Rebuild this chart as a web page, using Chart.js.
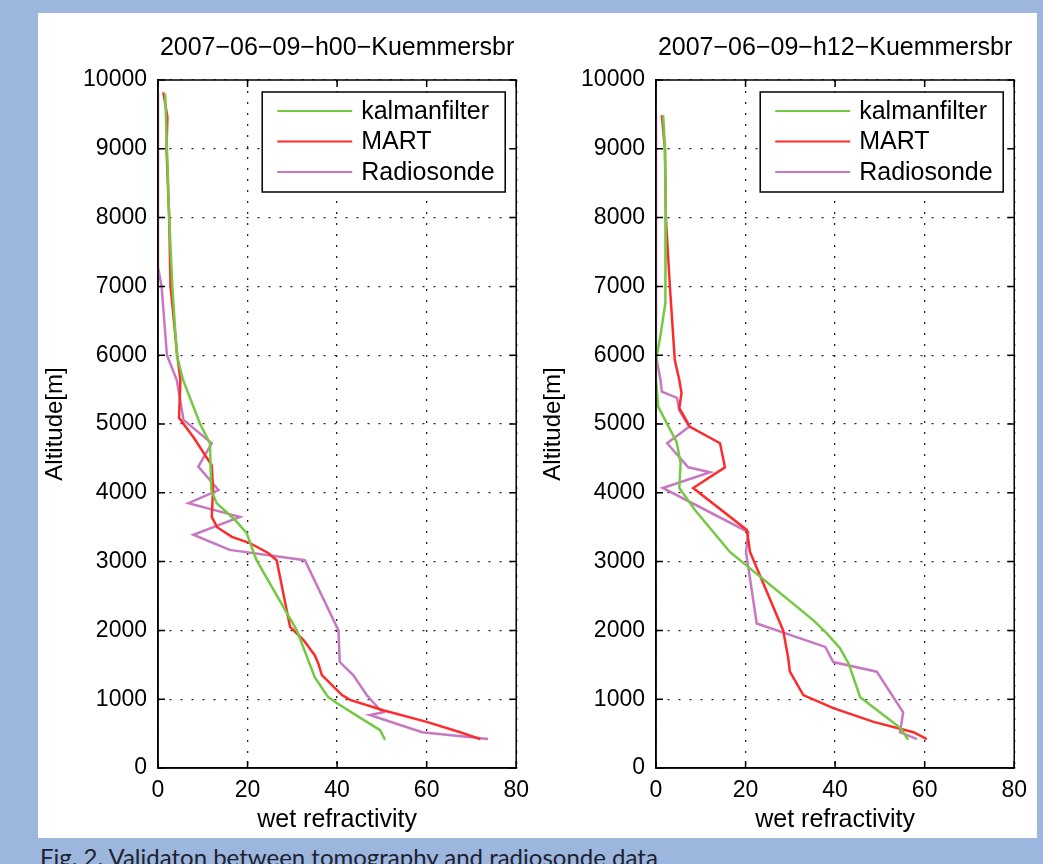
<!DOCTYPE html>
<html>
<head>
<meta charset="utf-8">
<script src="https://cdn.jsdelivr.net/npm/chart.js@4.4.1/dist/chart.umd.min.js"></script>
<style>
  html, body { margin: 0; padding: 0; }
  body { width: 1043px; height: 864px; background: #9cb6dd; position: relative; overflow: hidden; }
  #panel { position: absolute; left: 38px; top: 13px; width: 999px; height: 825px; background: #fff; }
  canvas { position: absolute; top: 13px; }
  #c1 { left: 38px; }
  #c2 { left: 536px; }
  #caption { position: absolute; left: 40px; top: 842px; font: 24px Lato, "Open Sans", sans-serif; color: #1c2130; white-space: nowrap; }
</style>
</head>
<body>
<div id="panel"></div>
<canvas id="c1" width="500" height="825"></canvas>
<canvas id="c2" width="500" height="825"></canvas>
<div id="caption">Fig. 2. Validaton between tomography and radiosonde data</div>
<script>
// --------- DADOS ----------
const seriesNames = ['kalmanfilter', 'MART', 'Radiosonde'];
const seriesColors = ['#74c943', '#ff2b2b', '#c878c0'];
const xTicks = [0, 20, 40, 60, 80];
const yTicks = [0, 1000, 2000, 3000, 4000, 5000, 6000, 7000, 8000, 9000, 10000];

// h00
const h00KalmanAlt = [9800, 9000, 8000, 7000, 6000, 5640, 5000, 4720, 4040, 3850, 3605, 3415, 3020, 2000, 1320, 1030, 940, 700, 550, 410];
const h00KalmanN   = [1.6, 2.0, 2.5, 3.2, 4.2, 5.6, 9.4, 11.6, 11.9, 13.1, 17.2, 19.8, 22.0, 31.0, 35.0, 38.0, 40.0, 45.9, 49.6, 50.7];
const h00MartAlt = [9820, 9460, 9000, 8000, 7000, 6000, 5640, 5090, 4800, 4400, 4050, 3650, 3500, 3360, 3270, 3125, 3020, 2050, 1860, 1640, 1520, 1350, 1200, 1060, 990, 840, 670, 520, 420];
const h00MartN   = [1.2, 2.1, 1.9, 2.5, 2.8, 4.3, 5.0, 4.7, 8.0, 12.0, 12.3, 12.0, 13.2, 16.5, 20.5, 24.6, 26.5, 29.5, 32.5, 35.0, 35.8, 36.6, 38.9, 41.1, 42.9, 50.3, 60.0, 67.5, 72.0];
const h00RadioAlt = [9820, 7280, 7000, 6000, 5640, 5060, 4720, 4380, 4040, 3850, 3650, 3390, 3170, 3020, 2000, 1540, 1350, 1060, 870, 810, 770, 520, 420];
const h00RadioN   = [0, 0, 0.8, 2.0, 4.2, 5.7, 12.0, 9.0, 13.5, 6.8, 18.3, 7.9, 16.0, 32.8, 40.3, 40.6, 43.6, 46.6, 49.2, 50.3, 47.3, 59.0, 73.7];

// h12
const h12KalmanAlt = [9490, 9010, 8010, 6760, 6270, 5930, 5640, 5250, 4740, 4430, 4070, 3750, 3140, 2150, 1960, 1740, 1520, 1030, 580, 410];
const h12KalmanN   = [1.6, 2.0, 2.2, 2.1, 0.95, 0, 0, 0.5, 4.6, 5.5, 5.2, 8.7, 16.5, 35.1, 38.1, 41.1, 43.0, 45.6, 54.6, 56.3];
const h12MartAlt = [9490, 9000, 8000, 7000, 5930, 5640, 5450, 5230, 4960, 4720, 4370, 4070, 3460, 3140, 2000, 1610, 1400, 1060, 870, 670, 520, 420];
const h12MartN   = [1.3, 2.0, 2.2, 3.1, 4.2, 5.2, 5.7, 5.2, 7.6, 14.3, 15.4, 8.3, 20.3, 21.0, 28.4, 29.5, 29.9, 32.9, 39.6, 48.6, 57.5, 60.5];
const h12RadioAlt = [9490, 6000, 5640, 5470, 5380, 5200, 4960, 4720, 4370, 4300, 4070, 3430, 3140, 2100, 1760, 1540, 1400, 810, 520, 420];
const h12RadioN   = [0, 0, 1.0, 1.3, 4.7, 5.2, 7.4, 2.5, 7.2, 12.1, 1.5, 20.6, 20.1, 22.5, 37.8, 39.6, 49.3, 55.2, 54.5, 58.3];

Chart.defaults.font.family = '"Liberation Sans", Arial, sans-serif';
Chart.defaults.color = '#000';

function pts(xs, ys){
    return xs.map((x, i) => ({x: x, y: ys[i]}));
}

// --------- MOLDURA, TICKS INTERNOS E LEGENDA ----------
const framePlugin = {
    id: 'frame',
    afterDatasetsDraw(chart){
        const {ctx, chartArea: a, scales} = chart;
        ctx.save();
        ctx.strokeStyle = '#000';
        ctx.lineWidth = 1.5;
        ctx.beginPath();
        scales.x.ticks.forEach(t => {
            const px = scales.x.getPixelForValue(t.value);
            ctx.moveTo(px, a.bottom); ctx.lineTo(px, a.bottom - 7);
            ctx.moveTo(px, a.top); ctx.lineTo(px, a.top + 7);
        });
        scales.y.ticks.forEach(t => {
            const py = scales.y.getPixelForValue(t.value);
            ctx.moveTo(a.left, py); ctx.lineTo(a.left + 7, py);
            ctx.moveTo(a.right, py); ctx.lineTo(a.right - 7, py);
        });
        ctx.stroke();
        ctx.strokeRect(a.left, a.top, a.right - a.left, a.bottom - a.top);

        // legenda
        const w = 243, h = 100;
        const lx = a.right - 11 - w, ly = a.top + 12;
        ctx.fillStyle = '#fff';
        ctx.fillRect(lx, ly, w, h);
        ctx.lineWidth = 1.5;
        ctx.strokeRect(lx, ly, w, h);
        ctx.font = '25px "Liberation Sans", Arial, sans-serif';
        ctx.textBaseline = 'middle';
        chart.data.datasets.forEach((ds, i) => {
            const ry = ly + 19 + i * 30.5;
            ctx.strokeStyle = ds.borderColor;
            ctx.lineWidth = 2;
            ctx.beginPath();
            ctx.moveTo(lx + 15, ry); ctx.lineTo(lx + 90, ry);
            ctx.stroke();
            ctx.fillStyle = '#000';
            ctx.fillText(ds.label, lx + 99, ry + 1);
        });
        ctx.restore();
    }
};

function makeChart(id, title, series){
    return new Chart(document.getElementById(id), {
        type: 'scatter',
        data: {
            datasets: series.map((s, i) => ({
                label: seriesNames[i],
                data: s,
                showLine: true,
                borderColor: seriesColors[i],
                backgroundColor: seriesColors[i],
                borderWidth: 2.5,
                pointRadius: 0,
                tension: 0
            }))
        },
        options: {
            responsive: false,
            animation: false,
            layout: {padding: {left: 0, top: 0, right: 21, bottom: 0}},
            plugins: {
                legend: {display: false},
                tooltip: {enabled: false},
                title: {
                    display: true,
                    fullSize: false,
                    text: title,
                    color: '#000',
                    font: {size: 25, weight: 'normal'},
                    padding: {top: 20, bottom: 17}
                }
            },
            scales: {
                x: {
                    type: 'linear',
                    min: 0, max: 80,
                    afterBuildTicks: s => { s.ticks = xTicks.map(v => ({value: v})); },
                    afterFit: s => { s.height = 70; },
                    ticks: {font: {size: 23}, padding: 9, color: '#000', callback: v => String(v)},
                    grid: {color: '#222', lineWidth: 1.3, drawTicks: false},
                    border: {display: true, color: '#000', width: 1.5, dash: [2, 9]},
                    title: {display: true, text: 'wet refractivity', font: {size: 25}, color: '#000', padding: {top: 0, bottom: 3}}
                },
                y: {
                    type: 'linear',
                    min: 0, max: 10000,
                    afterBuildTicks: s => { s.ticks = yTicks.map(v => ({value: v})); },
                    afterFit: s => { s.width = 120; },
                    ticks: {font: {size: 23}, padding: 11, color: '#000', callback: v => String(v)},
                    grid: {color: '#222', lineWidth: 1.3, drawTicks: false},
                    border: {display: true, color: '#000', width: 1.5, dash: [2, 9]},
                    title: {display: true, text: 'Altitude[m]', font: {size: 24}, color: '#000', padding: {top: 3, bottom: 0}}
                }
            }
        },
        plugins: [framePlugin]
    });
}

makeChart('c1', '2007\u221206\u221209\u2212h00\u2212Kuemmersbr', [
    pts(h00KalmanN, h00KalmanAlt),
    pts(h00MartN, h00MartAlt),
    pts(h00RadioN, h00RadioAlt)
]);
makeChart('c2', '2007\u221206\u221209\u2212h12\u2212Kuemmersbr', [
    pts(h12KalmanN, h12KalmanAlt),
    pts(h12MartN, h12MartAlt),
    pts(h12RadioN, h12RadioAlt)
]);
</script>
</body>
</html>
